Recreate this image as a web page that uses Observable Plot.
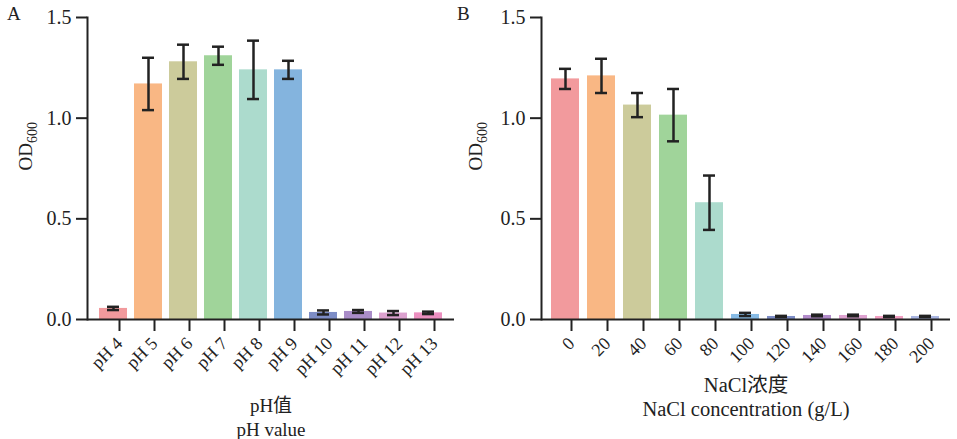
<!DOCTYPE html>
<html>
<head>
<meta charset="utf-8">
<script src="https://cdn.jsdelivr.net/npm/d3@7"></script>
<script src="https://cdn.jsdelivr.net/npm/@observablehq/plot@0.6"></script>
<style>
  body { margin: 0; background: #fff; }
  #wrap { position: relative; width: 957px; height: 439px; overflow: hidden; font-family: 'Liberation Serif', 'Noto Sans CJK SC', serif; }
  .panel { position: absolute; top: 0; }
  .letter { position: absolute; top: 3px; font-size: 19px; color: #222; font-family: 'Liberation Serif', serif; }
  g[aria-label="y-axis tick label"] text { font-size: 20px; }
  g[aria-label="x-axis tick label"] text { font-size: 18px; }
</style>
</head>
<body>
<div id="wrap">
  <div class="letter" style="left:7px">A</div>
  <div class="letter" style="left:457px">B</div>
  <div id="pa" class="panel" style="left:0px"></div>
  <div id="pb" class="panel" style="left:460px"></div>
</div>
<script>
// Panel A: pH
const phLabels = ["pH 4","pH 5","pH 6","pH 7","pH 8","pH 9","pH 10","pH 11","pH 12","pH 13"];
const phMeans  = [0.055, 1.17, 1.28, 1.31, 1.24, 1.24, 0.035, 0.04, 0.032, 0.033];
const phErrs   = [0.008, 0.13, 0.085, 0.045, 0.145, 0.045, 0.01, 0.007, 0.01, 0.006];
const phColors = ["#f29a9d","#f9b784","#cccb9b","#a0d49a","#acdbcd","#84b4de","#7d8dc6","#a98cc8","#dca2cf","#ec90c0"];

// Panel B: NaCl
const naclLabels = ["0","20","40","60","80","100","120","140","160","180","200"];
const naclMeans  = [1.195, 1.21, 1.065, 1.015, 0.58, 0.025, 0.015, 0.02, 0.02, 0.015, 0.015];
const naclErrs   = [0.05, 0.085, 0.06, 0.13, 0.135, 0.008, 0.003, 0.004, 0.004, 0.003, 0.003];
const naclColors = ["#f29a9d","#f9b784","#cccb9b","#a0d49a","#acdbcd","#88bce6","#7d8dc6","#b38ccb","#dea2d0","#f3a0c3","#aab6e2"];

const yTicks = [0, 0.5, 1.0, 1.5];
const ink = "#222";
const FONT = "'Liberation Serif', 'Noto Sans CJK SC', serif";

function panel({labels, means, errs, colors, width, marginLeft, marginRight, paddingOuter, title1, title2, t1dy, t2dy, titleSize, ylabDx}) {
  const data = labels.map((k, i) => ({k, v: means[i], lo: means[i] - errs[i], hi: means[i] + errs[i], c: colors[i]}));
  const svg = Plot.plot({
    width, height: 439,
    marginLeft, marginRight, marginTop: 17, marginBottom: 120,
    style: {fontFamily: FONT, fontSize: "17px", color: ink, background: "transparent"},
    x: {domain: labels, paddingInner: 0.21, paddingOuter, label: null},
    y: {domain: [0, 1.5], label: null},
    marks: [
      Plot.barY(data, {x: "k", y: "v", fill: "c"}),
      Plot.ruleX(data, {x: "k", y1: "lo", y2: "hi", stroke: ink, strokeWidth: 2.5}),
      Plot.tickY(data, {x: "k", y: "hi", stroke: ink, strokeWidth: 2.5, insetLeft: 8, insetRight: 8}),
      Plot.tickY(data, {x: "k", y: "lo", stroke: ink, strokeWidth: 2.5, insetLeft: 8, insetRight: 8}),
      Plot.axisY({ticks: yTicks, tickFormat: d => d.toFixed(1), tickSize: 11, tickPadding: 5, stroke: ink, strokeWidth: 2, fill: ink, fontSize: 20, label: null}),
      Plot.axisX({tickRotate: -45, tickSize: 12, tickPadding: 9, dx: 6, stroke: ink, strokeWidth: 2, fill: ink, fontSize: 18, label: null}),
      Plot.ruleY([0], {stroke: ink, strokeWidth: 2}),
      Plot.frame({anchor: "left", stroke: ink, strokeWidth: 2}),
      Plot.text(["OD600"], {frameAnchor: "left", rotate: -90, dx: ylabDx, dy: 2, fill: ink, fontSize: 19}),
      Plot.text([title1], {frameAnchor: "bottom", lineAnchor: "middle", dy: t1dy, fill: ink, fontSize: titleSize}),
      Plot.text([title2], {frameAnchor: "bottom", lineAnchor: "middle", dy: t2dy, fill: ink, fontSize: titleSize})
    ]
  });
  svg.querySelectorAll("text").forEach(t => {
    if (t.textContent === "OD600") {
      t.textContent = "OD";
      const ts = document.createElementNS("http://www.w3.org/2000/svg", "tspan");
      ts.setAttribute("font-size", "14");
      ts.setAttribute("dy", "5");
      ts.textContent = "600";
      t.appendChild(ts);
    }
  });
  return svg;
}

document.getElementById("pa").appendChild(panel({
  labels: phLabels, means: phMeans, errs: phErrs, colors: phColors,
  width: 460, marginLeft: 87, marginRight: 6, paddingOuter: 0.3,
  title1: "pH值", title2: "pH value", t1dy: 86, t2dy: 110, titleSize: 19, ylabDx: -62
}));
document.getElementById("pb").appendChild(panel({
  labels: naclLabels, means: naclMeans, errs: naclErrs, colors: naclColors,
  width: 497, marginLeft: 81, marginRight: 7, paddingOuter: 0.27,
  title1: "NaCl浓度", title2: "NaCl concentration (g/L)", t1dy: 66, t2dy: 90, titleSize: 20.5, ylabDx: -66
}));
</script>
</body>
</html>
